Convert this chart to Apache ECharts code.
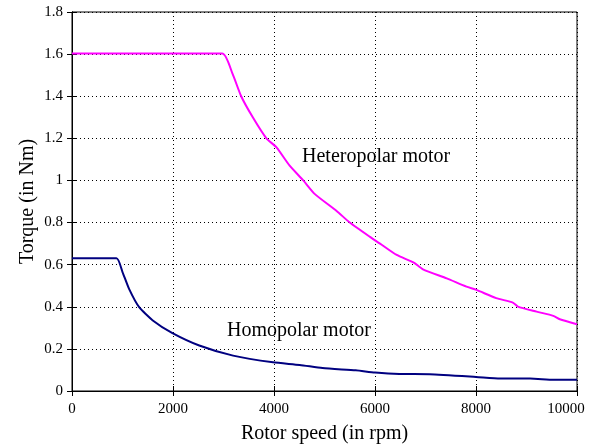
<!DOCTYPE html>
<html>
<head>
<meta charset="utf-8">
<script src="https://cdn.jsdelivr.net/npm/echarts@6/dist/echarts.min.js"></script>
<style>
  html, body { margin: 0; padding: 0; background: #fff; }
  #chart { width: 592px; height: 445px; }
</style>
</head>
<body>
<div id="chart"></div>
<script>
// Heteropolar motor: rotor speed (rpm) vs torque (Nm)
const heteroSpeed = [0, 2975, 3180, 3350, 3580, 3850, 4050, 4310, 4580, 4810, 5240, 5500, 5900, 6100, 6430, 6760, 6950, 7420, 7810, 8010, 8400, 8730, 8830, 9200, 9530, 9660, 10000]
const heteroTorque = [1.603, 1.603, 1.506, 1.40, 1.30, 1.20, 1.157, 1.07, 1.0, 0.935, 0.855, 0.80, 0.732, 0.70, 0.646, 0.611, 0.578, 0.535, 0.496, 0.48, 0.441, 0.42, 0.401, 0.377, 0.357, 0.341, 0.317]

// Homopolar motor
const homoSpeed = [0, 880, 1000, 1130, 1330, 1600, 1980, 2520, 3190, 3980, 4510, 4960, 5620, 6000, 6480, 7080, 8000, 8480, 9070, 9540, 10000]
const homoTorque = [0.63, 0.63, 0.565, 0.485, 0.398, 0.335, 0.276, 0.216, 0.168, 0.136, 0.124, 0.109, 0.098, 0.088, 0.081, 0.080, 0.067, 0.059, 0.059, 0.053, 0.053]

const xTicks = [0, 2000, 4000, 6000, 8000, 10000]
const yTicks = [0, 0.2, 0.4, 0.6, 0.8, 1, 1.2, 1.4, 1.6, 1.8]

const font = 'Liberation Serif'
const zip = (xs, ys) => xs.map((x, i) => [x, ys[i]])

const chart = echarts.init(document.getElementById('chart'))

const tickStyle = { show: true, inside: true, length: 5, lineStyle: { color: '#000', width: 1 } }
const gridLine = { show: true, lineStyle: { color: '#000', width: 1, type: [1, 3] } }

chart.setOption({
  animation: false,
  backgroundColor: '#fff',
  grid: {
    left: 72, right: 15, top: 12, bottom: 54,
    outerBoundsMode: 'none', containLabel: false,
    show: true, borderColor: '#000', borderWidth: 1
  },
  xAxis: [
    {
      type: 'value',
      min: xTicks[0],
      max: xTicks[xTicks.length - 1],
      interval: 2000,
      name: 'Rotor speed (in rpm)',
      nameLocation: 'middle',
      nameGap: 33,
      nameMoveOverlap: false,
      nameTextStyle: { fontFamily: font, fontSize: 20, color: '#000' },
      axisLine: { show: true, lineStyle: { color: '#000', width: 1 } },
      axisTick: tickStyle,
      axisLabel: {
        fontFamily: font, fontSize: 15, color: '#000', margin: 11,
        formatter: v => v === 10000 ? '{last|10000}' : String(v),
        rich: { last: { fontFamily: font, fontSize: 15, color: '#000', padding: [0, 22, 0, 0] } }
      },
      splitLine: gridLine
    },
    {
      type: 'value', position: 'top',
      min: xTicks[0], max: xTicks[xTicks.length - 1], interval: 2000,
      axisLine: { show: true, lineStyle: { color: '#000', width: 1 } },
      axisTick: tickStyle, axisLabel: { show: false }, splitLine: { show: false }
    }
  ],
  yAxis: [
    {
      type: 'value',
      min: yTicks[0],
      max: yTicks[yTicks.length - 1],
      interval: 0.2,
      name: 'Torque (in Nm)',
      nameLocation: 'middle',
      nameGap: 34,
      nameMoveOverlap: false,
      nameTextStyle: { fontFamily: font, fontSize: 20, color: '#000' },
      axisLine: { show: true, lineStyle: { color: '#000', width: 1 } },
      axisTick: tickStyle,
      axisLabel: {
        fontFamily: font, fontSize: 15, color: '#000', margin: 9,
        formatter: v => String(Math.round(v * 10) / 10)
      },
      splitLine: gridLine
    },
    {
      type: 'value', position: 'right',
      min: yTicks[0], max: yTicks[yTicks.length - 1], interval: 0.2,
      axisLine: { show: true, lineStyle: { color: '#000', width: 1 } },
      axisTick: tickStyle, axisLabel: { show: false }, splitLine: { show: false }
    }
  ],
  series: [
    {
      name: 'Heteropolar motor',
      type: 'line',
      data: zip(heteroSpeed, heteroTorque),
      showSymbol: false,
      smooth: 0.2,
      lineStyle: { color: '#ff00ff', width: 2 }
    },
    {
      name: 'Homopolar motor',
      type: 'line',
      data: zip(homoSpeed, homoTorque),
      showSymbol: false,
      smooth: 0.2,
      lineStyle: { color: '#000080', width: 2 }
    }
  ],
  graphic: [
    { type: 'text', left: 302, top: 147, style: { text: 'Heteropolar motor', fontFamily: font, fontSize: 20, fill: '#000' } },
    { type: 'text', left: 227, top: 321, style: { text: 'Homopolar motor', fontFamily: font, fontSize: 20, fill: '#000' } }
  ]
})
</script>
</body>
</html>
